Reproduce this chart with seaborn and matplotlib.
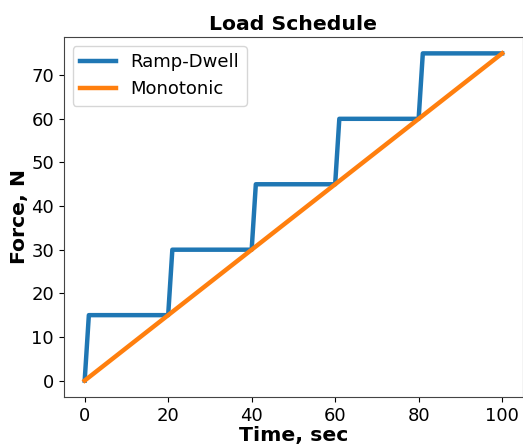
import matplotlib
matplotlib.use("Agg")
import matplotlib.pyplot as plt
import seaborn as sns
import pandas as pd

# Load histories
ramp_time = [0, 1, 20, 21, 40, 41, 60, 61, 80, 81, 100]
ramp_force = [0, 15, 15, 30, 30, 45, 45, 60, 60, 75, 75]
mono_time = [0, 100]
mono_force = [0, 75]

plt.rcParams['font.family'] = ['DejaVu Sans']

fig = plt.figure(figsize=(5.23, 4.46), dpi=100)
ax = fig.add_axes([0.122, 0.11, 0.878, 0.807])

df_ramp = pd.DataFrame({"t": ramp_time, "F": ramp_force})
df_mono = pd.DataFrame({"t": mono_time, "F": mono_force})
sns.lineplot(data=df_ramp, x="t", y="F", ax=ax, color="#1f77b4", linewidth=3.2,
             label="Ramp-Dwell", sort=False)
sns.lineplot(data=df_mono, x="t", y="F", ax=ax, color="#ff7f0e", linewidth=3.2,
             label="Monotonic", sort=False)

ax.set_xlim(-5, 105)
ax.set_ylim(-3.75, 78.75)
ax.set_xticks([0, 20, 40, 60, 80, 100])
ax.set_yticks([0, 10, 20, 30, 40, 50, 60, 70])
ax.tick_params(labelsize=13)
for s in ax.spines.values():
    s.set_color("#444444")
ax.set_xlabel("Time, sec", fontsize=14.7, fontweight="bold", labelpad=1)
ax.set_ylabel("Force, N", fontsize=14.7, fontweight="bold", labelpad=2)
ax.set_title("Load Schedule", fontsize=14.7, fontweight="bold", pad=5)
ax.legend(loc="upper left", fontsize=13)

fig.savefig("out.png", dpi=100)
